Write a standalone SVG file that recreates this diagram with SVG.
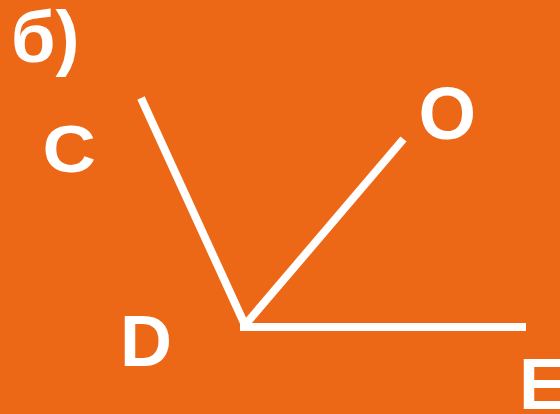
<svg xmlns="http://www.w3.org/2000/svg" width="560" height="414" viewBox="0 0 560 414">
<style>
.t{font-family:"Liberation Sans",Arial,sans-serif;font-weight:bold;fill:#fff}
.l{stroke:#fff;stroke-width:8;fill:none;stroke-linecap:butt}
</style>
<rect width="560" height="414" fill="#ED6816"/>
<g id="title"><text class="t" x="11" y="62" font-size="72">б)</text></g>
<g id="connectors">
<line class="l" x1="141" y1="98" x2="245" y2="325"/>
<line class="l" x1="403.5" y1="139" x2="245" y2="325"/>
<line class="l" x1="240" y1="327" x2="526" y2="327"/>
</g>
<g id="C"><text class="t" transform="translate(42.5,172) scale(1.12,1)" font-size="66">C</text></g>
<g id="O"><text class="t" x="418.5" y="138.6" font-size="74">O</text></g>
<g id="D"><text class="t" x="120" y="366" font-size="72">D</text></g>
<g id="E"><text class="t" x="519" y="409" font-size="72">E</text></g>
</svg>
